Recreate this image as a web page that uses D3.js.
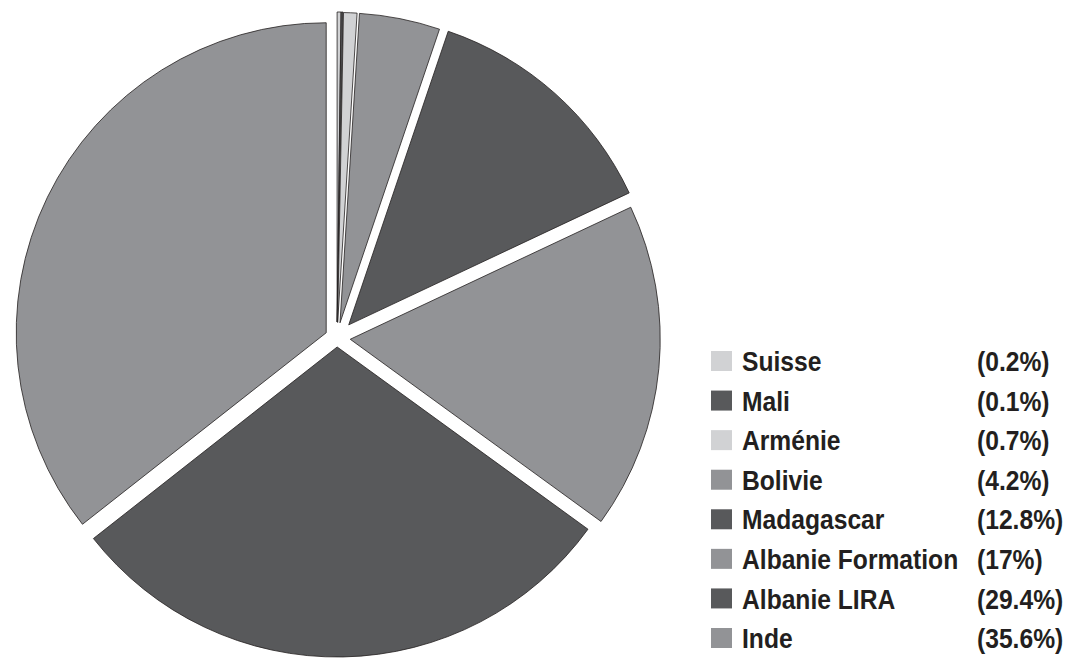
<!DOCTYPE html>
<html>
<head>
<meta charset="utf-8">
<script src="https://cdnjs.cloudflare.com/ajax/libs/d3/7.8.5/d3.min.js"></script>
<style>
  body { margin: 0; background: #ffffff; }
  .legendText { font-family: "Liberation Sans", Arial, sans-serif; font-weight: bold; fill: #231f20; }
</style>
</head>
<body>
<div id="chart"></div>
<script>
// Data
var countries = ["Suisse", "Mali", "Arménie", "Bolivie", "Madagascar", "Albanie Formation", "Albanie LIRA", "Inde"];
var shares = [0.2, 0.1, 0.7, 4.2, 12.8, 17, 29.4, 35.6];
var shareLabels = ["(0.2%)", "(0.1%)", "(0.7%)", "(4.2%)", "(12.8%)", "(17%)", "(29.4%)", "(35.6%)"];

// look
var sliceColors = ["#d1d2d4", "#58595b", "#d1d2d4", "#929396", "#58595b", "#929396", "#58595b", "#929396"];
// how far each slice is pulled out from the middle
var explode = [16, 16, 15.5, 15.5, 17.6, 13.3, 9, 12];

var svgWidth = 1078;
var svgHeight = 658;
var radius = 310;
var center = { x: 337, y: 338 };
// condensed look for the legend font
var squeeze = 0.88;

var svg = d3.select("#chart").append("svg")
  .attr("width", svgWidth)
  .attr("height", svgHeight);

// pie, clockwise from 12 o'clock, kept in data order
var pie = d3.pie()
  .sort(null)
  .value(d => d);

var arc = d3.arc()
  .innerRadius(0)
  .outerRadius(radius);

var pieGroup = svg.append("g")
  .attr("transform", `translate(${center.x}, ${center.y})`);

pieGroup.selectAll("path")
  .data(pie(shares))
  .enter()
  .append("path")
  .attr("d", arc)
  .attr("transform", function(d, i) {
    var mid = (d.startAngle + d.endAngle) / 2;
    var dx = Math.sin(mid) * explode[i];
    var dy = -Math.cos(mid) * explode[i];
    return `translate(${dx}, ${dy})`;
  })
  .attr("fill", (d, i) => sliceColors[i])
  .attr("stroke", "#231f20")
  .attr("stroke-width", 0.8)
  .attr("stroke-linejoin", "miter");

// Legend
var legendY = d3.scalePoint()
  .domain(countries)
  .range([361, 638]);

var legend = svg.append("g");

legend.selectAll("rect")
  .data(countries)
  .enter()
  .append("rect")
  .attr("x", 711)
  .attr("y", d => legendY(d) - 10)
  .attr("width", 21)
  .attr("height", 20)
  .attr("fill", (d, i) => sliceColors[i]);

legend.selectAll("text.name")
  .data(countries)
  .enter()
  .append("text")
  .attr("class", "legendText name")
  .attr("transform", d => `translate(742, ${legendY(d)}) scale(${squeeze}, 1)`)
  .attr("dy", "0.36em")
  .attr("font-size", 28)
  .text(d => d);

legend.selectAll("text.pct")
  .data(shareLabels)
  .enter()
  .append("text")
  .attr("class", "legendText pct")
  .attr("transform", (d, i) => `translate(977, ${legendY(countries[i])}) scale(${squeeze}, 1)`)
  .attr("dy", "0.36em")
  .attr("font-size", 28)
  .text(d => d);
</script>
</body>
</html>
